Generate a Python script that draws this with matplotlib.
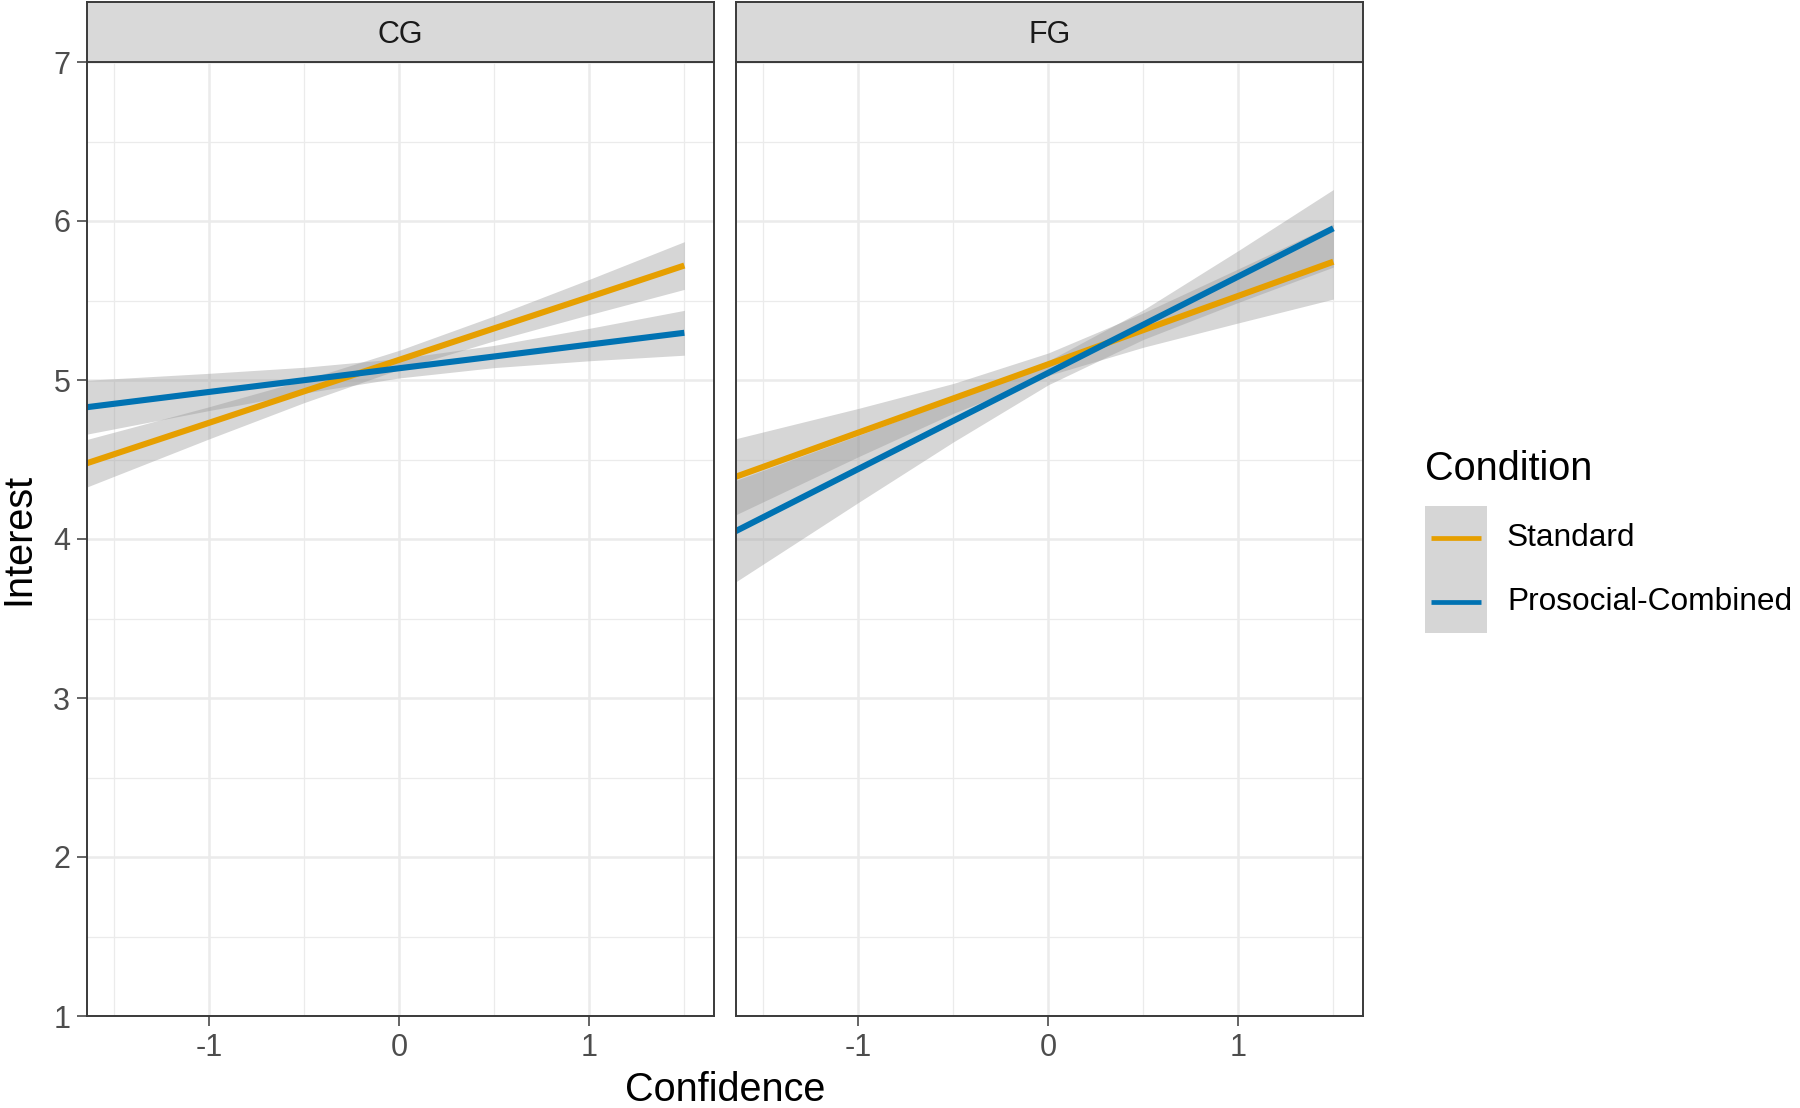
import matplotlib
matplotlib.use("Agg")
import matplotlib.pyplot as plt
from matplotlib.patches import Rectangle
from matplotlib.lines import Line2D
import numpy as np

plt.rcParams['font.family'] = ['Liberation Sans', 'DejaVu Sans']

# ---------------- data ----------------
panels = ["CG", "FG"]
conditions = ["Standard", "Prosocial-Combined"]
colors = {"Standard": "#E69F00", "Prosocial-Combined": "#0072B2"}

x_pts = [-1.65, -1.0, -0.5, 0.0, 0.5, 1.0, 1.5]

# fitted lines
cg_standard_fit = [4.474, 4.731, 4.929, 5.127, 5.325, 5.522, 5.720]
cg_prosocial_fit = [4.828, 4.925, 4.999, 5.074, 5.148, 5.223, 5.297]
fg_standard_fit = [4.389, 4.669, 4.884, 5.099, 5.314, 5.529, 5.744]
fg_prosocial_fit = [4.046, 4.440, 4.743, 5.045, 5.348, 5.651, 5.954]

# confidence-band half widths
cg_standard_hw = [0.150, 0.101, 0.071, 0.060, 0.078, 0.111, 0.150]
cg_prosocial_hw = [0.170, 0.117, 0.081, 0.061, 0.070, 0.102, 0.141]
fg_standard_hw = [0.240, 0.152, 0.094, 0.071, 0.108, 0.170, 0.235]
fg_prosocial_hw = [0.320, 0.211, 0.133, 0.075, 0.093, 0.163, 0.244]

data = {
    "CG": {"Standard": (cg_standard_fit, cg_standard_hw),
           "Prosocial-Combined": (cg_prosocial_fit, cg_prosocial_hw)},
    "FG": {"Standard": (fg_standard_fit, fg_standard_hw),
           "Prosocial-Combined": (fg_prosocial_fit, fg_prosocial_hw)},
}

x_ticks = [-1, 0, 1]
x_tick_labels = ["-1", "0", "1"]
y_ticks = [1, 2, 3, 4, 5, 6, 7]
y_tick_labels = ["1", "2", "3", "4", "5", "6", "7"]

# ---------------- figure ----------------
W, H = 1800, 1108
fig = plt.figure(figsize=(W / 100, H / 100), dpi=100)

def fx(px):
    return px / W

def fy(py):
    return 1 - py / H

panel_x = [(87, 714), (736, 1363)]
p_top, p_bot = 62, 1016
strip_top = 2

border_col = "#3A3A3A"
grid_col = "#EBEBEB"
tick_fs = 22
title_fs = 28.5

axes = []
for i, name in enumerate(panels):
    x0, x1 = panel_x[i]
    ax = fig.add_axes([fx(x0), fy(p_bot), fx(x1 - x0), (p_bot - p_top) / H])
    axes.append(ax)
    ax.set_xlim(-1.643, 1.656)
    ax.set_ylim(1, 7)
    # grid
    for v in [-1.5, -0.5, 0.5, 1.5]:
        ax.axvline(v, color=grid_col, lw=0.9, zorder=0)
    for v in [1.5, 2.5, 3.5, 4.5, 5.5, 6.5]:
        ax.axhline(v, color=grid_col, lw=0.9, zorder=0)
    for v in x_ticks:
        ax.axvline(v, color=grid_col, lw=1.8, zorder=0)
    for v in y_ticks:
        ax.axhline(v, color=grid_col, lw=1.8, zorder=0)

    for cond in conditions:
        fit, hw = data[name][cond]
        fit = np.array(fit)
        hw = np.array(hw)
        ax.fill_between(x_pts, fit - hw, fit + hw, color="#999999", alpha=0.4,
                        lw=0, zorder=2)
    for cond in conditions:
        fit, hw = data[name][cond]
        ax.plot(x_pts, fit, color=colors[cond], lw=4.4, zorder=3,
                solid_capstyle="butt")

    ax.set_xticks(x_ticks)
    ax.set_xticklabels(x_tick_labels)
    ax.set_yticks(y_ticks)
    if i == 0:
        ax.set_yticklabels(y_tick_labels)
        ax.tick_params(axis="y", length=7, width=1.1, color=border_col,
                       labelsize=tick_fs, labelcolor="#4D4D4D", pad=5)
    else:
        ax.tick_params(axis="y", left=False, labelleft=False)
    ax.tick_params(axis="x", length=7, width=1.1, color=border_col,
                   labelsize=tick_fs, labelcolor="#4D4D4D", pad=5)
    for sp in ax.spines.values():
        sp.set_color(border_col)
        sp.set_linewidth(1.4)
        sp.set_zorder(5)

    # strip
    sax = fig.add_axes([fx(x0), fy(p_top), fx(x1 - x0), (p_top - strip_top) / H])
    sax.set_facecolor("#D9D9D9")
    sax.set_xticks([])
    sax.set_yticks([])
    for sp in sax.spines.values():
        sp.set_color(border_col)
        sp.set_linewidth(1.4)
    sax.text(0.5, 0.45, name, ha="center", va="center", fontsize=tick_fs,
             color="#1A1A1A", transform=sax.transAxes)

# axis titles
fig.text(fx(725), fy(1090), "Confidence", ha="center", va="center",
         fontsize=title_fs, color="black")
fig.text(fx(18), fy(539), "Interest", ha="center", va="center",
         rotation=90, fontsize=title_fs, color="black")

# legend
fig.text(fx(1425), fy(469), "Condition", ha="left", va="center",
         fontsize=title_fs, color="black")
key_x0, key_x1 = 1425, 1487
key_y0, key_y1 = 506, 633
fig.patches.append(Rectangle((fx(key_x0), fy(key_y1)), fx(key_x1 - key_x0),
                             (key_y1 - key_y0) / H, transform=fig.transFigure,
                             facecolor="#D6D6D6", edgecolor="none"))
legend_y = [538, 602]
for cond, ly in zip(conditions, legend_y):
    fig.lines.append(Line2D([fx(key_x0 + 6), fx(key_x1 - 6)], [fy(ly), fy(ly)],
                            transform=fig.transFigure, color=colors[cond],
                            lw=3.4, solid_capstyle="butt"))
    fig.text(fx(1507), fy(ly), cond, ha="left", va="center",
             fontsize=22.8, color="black")

fig.savefig("out.png", dpi=100, facecolor="white")
